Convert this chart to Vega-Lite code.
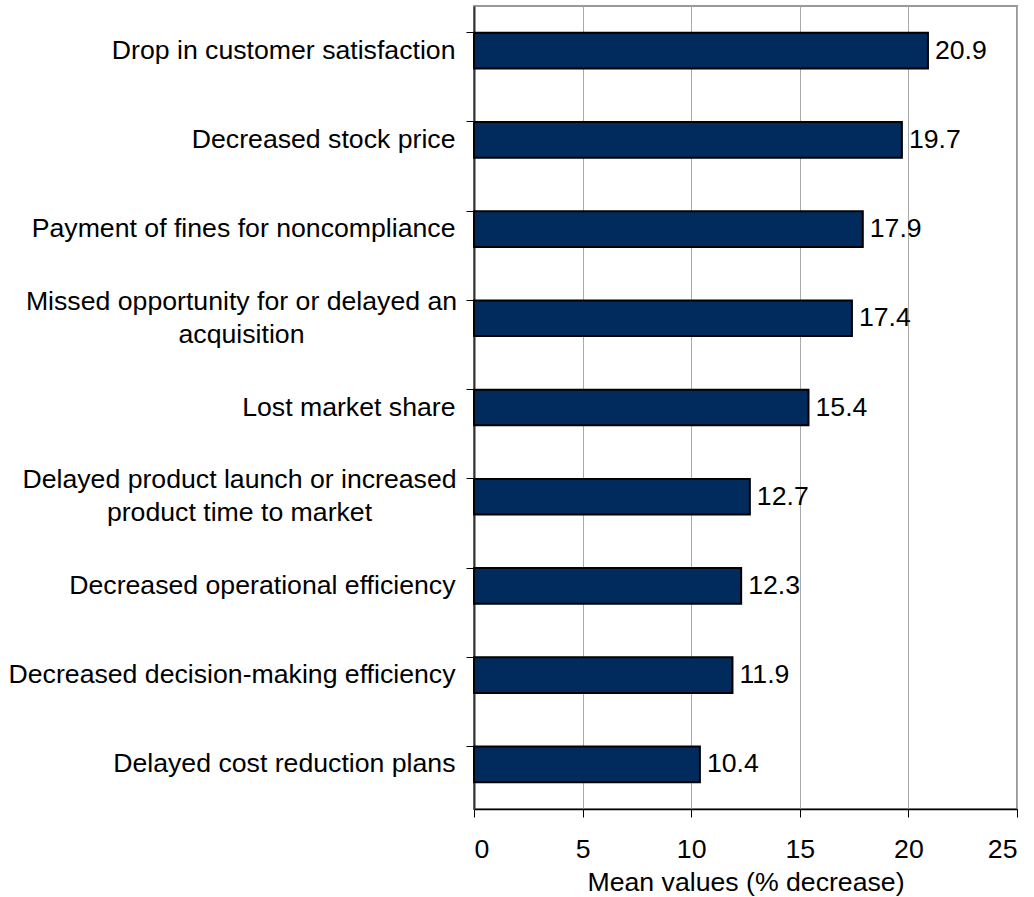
{
  "$schema": "https://vega.github.io/schema/vega-lite/v6.json",
  "autosize": {"type": "none"},
  "padding": {"left": 474, "top": 6, "right": 17, "bottom": 88},
  "width": 543,
  "height": 803,
  "background": "white",
  "config": {
    "font": "Liberation Sans",
    "view": {"stroke": "#999999", "strokeWidth": 2}
  },
  "data": {
    "values": [
      {"item": "Drop in customer satisfaction", "value": 20.9},
      {"item": "Decreased stock price", "value": 19.7},
      {"item": "Payment of fines for noncompliance", "value": 17.9},
      {"item": "Missed opportunity for or delayed an|acquisition", "value": 17.4},
      {"item": "Lost market share", "value": 15.4},
      {"item": "Delayed product launch or increased|product time to market", "value": 12.7},
      {"item": "Decreased operational efficiency", "value": 12.3},
      {"item": "Decreased decision-making efficiency", "value": 11.9},
      {"item": "Delayed cost reduction plans", "value": 10.4}
    ]
  },
  "encoding": {
    "y": {
      "field": "item",
      "type": "nominal",
      "sort": null,
      "scale": {"paddingInner": 0.6, "paddingOuter": 0.3},
      "axis": {
        "title": null,
        "labelExpr": "split(datum.label, '|')",
        "labelFontSize": 26.67,
        "labelColor": "black",
        "labelAlign": {"condition": {"test": "indexof(datum.value, '|') >= 0", "value": "center"}, "value": "right"},
        "labelOffset": {"condition": {"test": "indexof(datum.value, '|') >= 0", "value": -16.5}, "value": 0},
        "labelPadding": {
          "condition": [
            {"test": "indexof(datum.value, 'Missed') >= 0", "value": 225},
            {"test": "indexof(datum.value, 'launch') >= 0", "value": 227}
          ],
          "value": 11
        },
        "labelLimit": 700,
        "labelLineHeight": 33,
        "bandPosition": 0,
        "tickSize": 8,
        "tickColor": "black",
        "tickWidth": 1,
        "domainColor": "#333333",
        "domainWidth": 2,
        "grid": false
      }
    },
    "x": {
      "field": "value",
      "type": "quantitative",
      "scale": {"domain": [0, 25], "nice": false},
      "axis": {
        "title": "Mean values (% decrease)",
        "titleFontSize": 26.67,
        "titleFontWeight": "normal",
        "titleColor": "black",
        "titlePadding": 7,
        "values": [0, 5, 10, 15, 20, 25],
        "labelFontSize": 26.67,
        "labelColor": "black",
        "labelPadding": 19,
        "tickSize": 8,
        "tickColor": "black",
        "domainColor": "black",
        "domainWidth": 1.5,
        "grid": true,
        "gridColor": "#aaaaaa",
        "gridWidth": 1
      }
    }
  },
  "layer": [
    {
      "mark": {"type": "bar", "color": "#002B5C", "stroke": "black", "strokeWidth": 2}
    },
    {
      "mark": {"type": "text", "align": "left", "dx": 7, "fontSize": 26.67, "color": "black"},
      "encoding": {"text": {"field": "value", "type": "quantitative", "format": ".1f"}}
    }
  ]
}
